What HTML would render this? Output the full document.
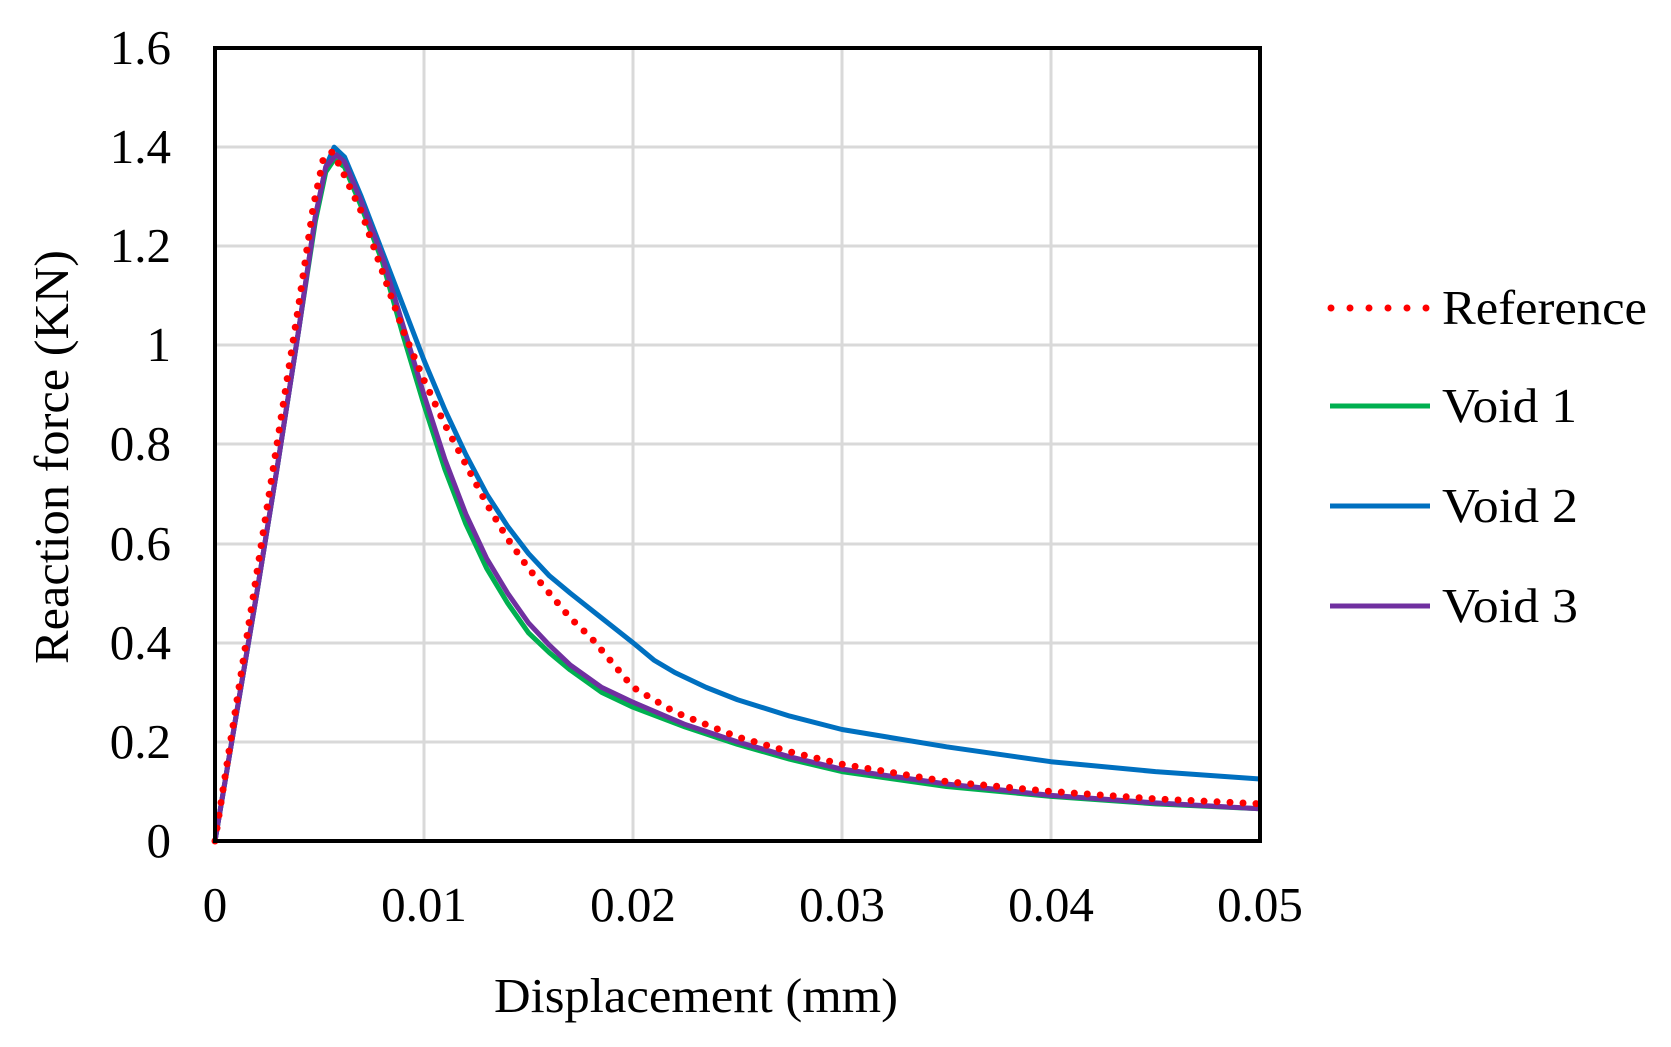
<!DOCTYPE html>
<html><head><meta charset="utf-8"><style>html,body{margin:0;padding:0;background:#fff}svg{display:block}</style></head>
<body>
<svg width="1671" height="1047" viewBox="0 0 1671 1047" xmlns="http://www.w3.org/2000/svg" font-family="Liberation Serif, serif">
<rect width="1671" height="1047" fill="#fff"/>
<g stroke="#d9d9d9" stroke-width="3">
<line x1="424" y1="48" x2="424" y2="841"/><line x1="633" y1="48" x2="633" y2="841"/>
<line x1="842" y1="48" x2="842" y2="841"/><line x1="1051" y1="48" x2="1051" y2="841"/>
<line x1="215" y1="742" x2="1260" y2="742"/><line x1="215" y1="643" x2="1260" y2="643"/>
<line x1="215" y1="544" x2="1260" y2="544"/><line x1="215" y1="444" x2="1260" y2="444"/>
<line x1="215" y1="345" x2="1260" y2="345"/><line x1="215" y1="246" x2="1260" y2="246"/>
<line x1="215" y1="147" x2="1260" y2="147"/>
</g>
<g transform="translate(215,841) scale(20900,-495.6)" fill="none" stroke-linejoin="round">
<polyline vector-effect="non-scaling-stroke" stroke="#00b050" stroke-width="5" points="0,0 0.001,0.25 0.002,0.5 0.003,0.76 0.004,1.03 0.0048,1.25 0.0053,1.35 0.0057,1.375 0.0062,1.36 0.007,1.28 0.008,1.17 0.009,1.02 0.010,0.88 0.011,0.75 0.012,0.64 0.013,0.55 0.014,0.48 0.015,0.42 0.016,0.38 0.017,0.345 0.0185,0.3 0.02,0.27 0.0225,0.23 0.025,0.195 0.0275,0.165 0.03,0.14 0.035,0.11 0.04,0.09 0.045,0.075 0.05,0.065"/>
<polyline vector-effect="non-scaling-stroke" stroke="#0070c0" stroke-width="5" points="0,0 0.001,0.25 0.002,0.5 0.003,0.76 0.004,1.03 0.0048,1.26 0.0053,1.36 0.0057,1.40 0.0062,1.38 0.007,1.3 0.008,1.19 0.009,1.08 0.010,0.97 0.011,0.87 0.012,0.78 0.013,0.70 0.014,0.635 0.015,0.58 0.016,0.535 0.017,0.5 0.0185,0.45 0.020,0.40 0.021,0.365 0.022,0.34 0.0235,0.31 0.025,0.285 0.0275,0.252 0.03,0.225 0.035,0.19 0.04,0.16 0.045,0.14 0.05,0.125"/>
<polyline vector-effect="non-scaling-stroke" stroke="#7030a0" stroke-width="5" points="0,0 0.001,0.25 0.002,0.5 0.003,0.76 0.004,1.03 0.0048,1.26 0.0053,1.36 0.0058,1.385 0.0062,1.37 0.007,1.29 0.008,1.18 0.009,1.04 0.010,0.9 0.011,0.77 0.012,0.66 0.013,0.57 0.014,0.5 0.015,0.44 0.016,0.395 0.017,0.355 0.0185,0.31 0.02,0.28 0.0225,0.235 0.025,0.2 0.0275,0.17 0.03,0.145 0.035,0.115 0.04,0.092 0.045,0.077 0.05,0.065"/>
<polyline vector-effect="non-scaling-stroke" stroke="#ff0000" stroke-width="7" stroke-linecap="round" stroke-dasharray="0 13" points="0,0 0.001,0.27 0.002,0.54 0.003,0.81 0.004,1.08 0.0047,1.28 0.0052,1.38 0.0056,1.39 0.006,1.36 0.007,1.27 0.008,1.15 0.009,1.03 0.010,0.93 0.011,0.84 0.012,0.76 0.013,0.68 0.014,0.61 0.015,0.55 0.016,0.5 0.017,0.45 0.018,0.41 0.019,0.36 0.02,0.31 0.022,0.26 0.025,0.21 0.0275,0.18 0.03,0.155 0.035,0.12 0.04,0.1 0.045,0.085 0.05,0.075"/>
</g>
<rect x="215" y="48" width="1045" height="793" fill="none" stroke="#000" stroke-width="4"/>
<g font-size="49" fill="#000" text-anchor="end">
<text x="171" y="857">0</text><text x="171" y="758">0.2</text><text x="171" y="659">0.4</text>
<text x="171" y="560">0.6</text><text x="171" y="460">0.8</text><text x="171" y="361">1</text>
<text x="171" y="262">1.2</text><text x="171" y="163">1.4</text><text x="171" y="64">1.6</text>
</g>
<g font-size="49" fill="#000" text-anchor="middle">
<text x="215" y="921">0</text><text x="424" y="921">0.01</text><text x="633" y="921">0.02</text>
<text x="842" y="921">0.03</text><text x="1051" y="921">0.04</text><text x="1260" y="921">0.05</text>
<text x="696" y="1012" textLength="404" lengthAdjust="spacingAndGlyphs">Displacement (mm)</text>
<text transform="translate(68,457) rotate(-90)" textLength="414" lengthAdjust="spacingAndGlyphs">Reaction force (KN)</text>
</g>
<line x1="1331" y1="308" x2="1430" y2="308" stroke="#ff0000" stroke-width="7" stroke-linecap="round" stroke-dasharray="0 19"/>
<line x1="1330" y1="406" x2="1430" y2="406" stroke="#00b050" stroke-width="5"/>
<line x1="1330" y1="506" x2="1430" y2="506" stroke="#0070c0" stroke-width="5"/>
<line x1="1330" y1="606" x2="1430" y2="606" stroke="#7030a0" stroke-width="5"/>
<g font-size="49" fill="#000">
<text x="1442" y="324" textLength="205" lengthAdjust="spacingAndGlyphs">Reference</text>
<text x="1442" y="422" textLength="135" lengthAdjust="spacingAndGlyphs">Void 1</text>
<text x="1442" y="522" textLength="136" lengthAdjust="spacingAndGlyphs">Void 2</text>
<text x="1442" y="622" textLength="136" lengthAdjust="spacingAndGlyphs">Void 3</text>
</g>
</svg>
</body></html>
